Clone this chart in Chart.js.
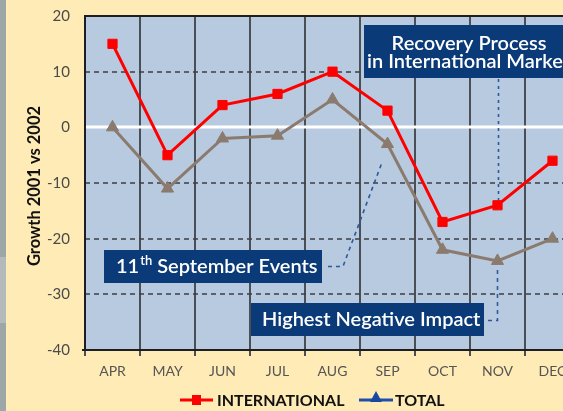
<!DOCTYPE html>
<html>
<head>
<meta charset="utf-8">
<script src="https://cdn.jsdelivr.net/npm/chart.js@4.4.1/dist/chart.umd.min.js"></script>
<style>
  html, body { margin: 0; padding: 0; }
  body { width: 563px; height: 411px; overflow: hidden; background: #ffebb6; position: relative; }
  #strip { position: absolute; left: 0; top: 0; width: 6px; height: 411px; background: #9ea7a8; }
  #strip2 { position: absolute; left: 0; top: 257px; width: 6px; height: 66px; background: #b4babb; }
  #wrap { position: absolute; left: 0; top: 0; width: 600px; height: 411px; }
</style>
</head>
<body>
<div id="strip"></div>
<div id="strip2"></div>
<div id="wrap"><canvas id="chart" width="600" height="411"></canvas></div>
<script>
// Months on the x axis
const months = ['APR', 'MAY', 'JUN', 'JUL', 'AUG', 'SEP', 'OCT', 'NOV', 'DEC'];

// Growth 2001 vs 2002 (%)
const international = [15, -5, 4, 6, 10, 3, -17, -14, -6];
const total = [0, -11, -2, -1.5, 5, -3, -22, -24, -20];

// Y axis range
const yMin = -40;
const yMax = 20;
const yStep = 10;

const FONT = 'Lato, "Open Sans", sans-serif';
const PLOT_BG = '#b8cadf';
const NAVY = '#0b3a78';
const RED = '#ff0000';
const GREY = '#8b7b6f';

// Background, grid lines, borders and annotations
const decorPlugin = {
    id: 'decor',
    beforeDraw(chart) {
        const { ctx, chartArea: a } = chart;
        ctx.save();
        ctx.fillStyle = PLOT_BG;
        ctx.fillRect(a.left, a.top, a.right - a.left, a.bottom - a.top);
        ctx.restore();
    },
    beforeDatasetsDraw(chart) {
        const { ctx, chartArea: a, scales } = chart;
        const y = scales.y, x = scales.x;
        ctx.save();

        // horizontal grid lines
        for (let v = yMin + yStep; v < yMax; v += yStep) {
            const py = Math.round(y.getPixelForValue(v));
            ctx.beginPath();
            if (v === 0) {
                ctx.strokeStyle = '#ffffff';
                ctx.lineWidth = 3;
                ctx.setLineDash([]);
            } else {
                ctx.strokeStyle = '#3c3f44';
                ctx.lineWidth = 1.3;
                ctx.setLineDash([5, 4]);
            }
            ctx.moveTo(a.left, py);
            ctx.lineTo(a.right, py);
            ctx.stroke();
        }
        ctx.setLineDash([]);

        // plot borders
        ctx.strokeStyle = '#1e1e22';
        ctx.lineWidth = 2;
        ctx.beginPath();
        ctx.moveTo(a.right, a.top);
        ctx.lineTo(a.left, a.top);
        ctx.lineTo(a.left, a.bottom);
        ctx.lineTo(a.right, a.bottom);
        ctx.stroke();
        ctx.beginPath();
        ctx.moveTo(a.left - 3, a.bottom);
        ctx.lineTo(a.left, a.bottom);
        ctx.stroke();

        // connectors
        const sepTot = { x: x.getPixelForValue(5), y: y.getPixelForValue(total[5]) };
        const novTot = { x: x.getPixelForValue(7), y: y.getPixelForValue(total[7]) };
        const novInt = { x: x.getPixelForValue(7), y: y.getPixelForValue(international[7]) };
        const yEvents = y.getPixelForValue(-25);
        const yImpact = y.getPixelForValue(-34.7);

        ctx.strokeStyle = '#2c5a9c';
        ctx.lineWidth = 1.6;
        ctx.setLineDash([4, 4]);
        ctx.beginPath();
        ctx.moveTo(328, yEvents);
        ctx.lineTo(343, yEvents);
        ctx.lineTo(sepTot.x - 5, sepTot.y + 17);
        ctx.stroke();

        ctx.beginPath();
        ctx.moveTo(488, yImpact);
        ctx.lineTo(novTot.x, yImpact);
        ctx.lineTo(novTot.x, novTot.y + 8);
        ctx.stroke();

        ctx.setLineDash([3, 4]);
        ctx.beginPath();
        ctx.moveTo(novInt.x + 1, 79);
        ctx.lineTo(novInt.x + 1, novInt.y - 4);
        ctx.stroke();
        ctx.setLineDash([]);

        // annotation boxes
        ctx.fillStyle = NAVY;
        ctx.fillRect(364, 25, 212, 53);
        ctx.fillRect(104, 250, 218, 33);
        ctx.fillRect(251, 303, 233, 33);

        const big = '600 20px ' + FONT;
        ctx.fillStyle = '#ffffff';
        ctx.font = big;
        ctx.textBaseline = 'middle';
        ctx.textAlign = 'center';
        ctx.fillText('Recovery Process', 469, 44);
        ctx.textAlign = 'left';
        ctx.fillText('in International Markets', 367, 62);

        ctx.fillText('Highest Negative Impact', 262, 320);

        let tx = 116;
        ctx.fillText('11', tx, 267);
        tx += ctx.measureText('11').width + 1;
        ctx.font = '600 13px ' + FONT;
        ctx.fillText('th', tx, 261);
        tx += ctx.measureText('th').width;
        ctx.font = big;
        ctx.fillText(' September Events', tx, 267);

        ctx.restore();
    },
    afterDraw(chart) {
        const { ctx } = chart;
        ctx.save();

        // y axis title
        ctx.translate(35, 186);
        ctx.rotate(-Math.PI / 2);
        ctx.fillStyle = '#111111';
        ctx.font = 'bold 16.5px ' + FONT;
        ctx.textAlign = 'center';
        ctx.textBaseline = 'middle';
        ctx.fillText('Growth 2001 vs 2002', 0, 0);
        ctx.setTransform(1, 0, 0, 1, 0, 0);

        // legend
        const ly = 400;
        ctx.lineWidth = 3;
        ctx.strokeStyle = RED;
        ctx.beginPath();
        ctx.moveTo(180, ly);
        ctx.lineTo(213, ly);
        ctx.stroke();
        ctx.fillStyle = RED;
        ctx.fillRect(192, ly - 5, 9, 10);

        ctx.strokeStyle = '#1f4fa8';
        ctx.beginPath();
        ctx.moveTo(359, ly);
        ctx.lineTo(393, ly);
        ctx.stroke();
        ctx.fillStyle = '#1a48a0';
        ctx.beginPath();
        ctx.moveTo(376, ly - 9);
        ctx.lineTo(382, ly + 2);
        ctx.lineTo(370, ly + 2);
        ctx.closePath();
        ctx.fill();

        ctx.fillStyle = '#111111';
        ctx.font = 'bold 16px ' + FONT;
        ctx.textAlign = 'left';
        ctx.textBaseline = 'middle';
        ctx.fillText('INTERNATIONAL', 217, ly + 1);
        ctx.fillText('TOTAL', 395, ly + 1);
        ctx.restore();
    }
};

const ctx = document.getElementById('chart').getContext('2d');
const chart = new Chart(ctx, {
    type: 'line',
    data: {
        labels: months,
        datasets: [
            {
                label: 'INTERNATIONAL',
                data: international,
                borderColor: RED,
                backgroundColor: RED,
                borderWidth: 3,
                pointStyle: 'rect',
                pointRadius: 6.5,
                pointBorderWidth: 1,
                pointBorderColor: RED,
                pointBackgroundColor: RED,
                tension: 0,
                fill: false
            },
            {
                label: 'TOTAL',
                data: total,
                borderColor: GREY,
                backgroundColor: GREY,
                borderWidth: 3,
                pointStyle: 'triangle',
                pointRadius: 7,
                pointBorderWidth: 1,
                pointBorderColor: GREY,
                pointBackgroundColor: GREY,
                tension: 0,
                fill: false
            }
        ]
    },
    options: {
        responsive: false,
        animation: false,
        layout: { padding: { left: 0, top: 14, right: 20, bottom: 0 } },
        plugins: {
            legend: { display: false },
            tooltip: { enabled: false }
        },
        scales: {
            x: {
                offset: true,
                grid: {
                    offset: true,
                    color: '#4a4f56',
                    lineWidth: 2,
                    drawTicks: true,
                    tickLength: 6
                },
                border: { display: false },
                ticks: {
                    color: '#555555',
                    font: { family: FONT, size: 14 },
                    padding: 7,
                    maxRotation: 0
                },
                afterFit(scale) { scale.height = 61; }
            },
            y: {
                min: yMin,
                max: yMax,
                grid: { display: false },
                border: { display: false },
                ticks: {
                    stepSize: yStep,
                    color: '#4a4a4a',
                    font: { family: FONT, size: 15 },
                    padding: 7
                },
                afterFit(scale) { scale.width = 85; }
            }
        }
    },
    plugins: [decorPlugin]
});
</script>
</body>
</html>
